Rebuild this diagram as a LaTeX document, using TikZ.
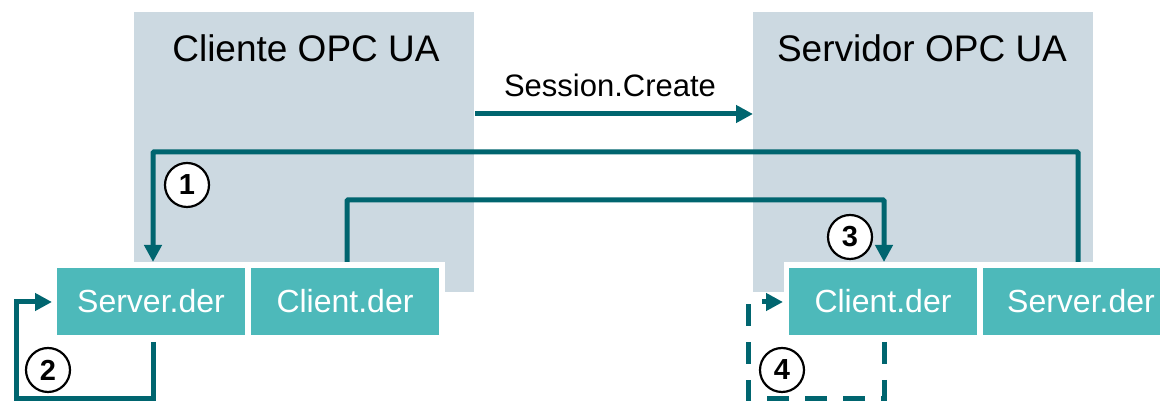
\documentclass[tikz,border=0pt]{standalone}
\usepackage{fontspec}
\setmainfont{Liberation Sans}
\usetikzlibrary{arrows.meta}
\definecolor{panel}{HTML}{CCD9E1}
\definecolor{cert}{HTML}{4DB9BA}
\definecolor{flow}{HTML}{00656F}
\tikzset{
  x=1pt,y=1pt,
  certbox/.style={fill=cert,text=white,minimum width=188pt,minimum height=67pt,inner sep=0pt,font=\fontsize{32}{36}\selectfont},
  arr/.style={draw=flow,line width=5pt,-{Triangle[length=17pt,width=17pt]}},
  numc/.style={circle,draw=black,line width=2.2pt,fill=white,minimum size=44pt,inner sep=0pt,font=\fontsize{29}{32}\selectfont\bfseries},
  title/.style={font=\fontsize{37}{40}\selectfont},
}
\begin{document}
\begin{tikzpicture}
\useasboundingbox (0,0) rectangle (1160,403);
% panels
\fill[panel] (134,111) rectangle (474,391);
\fill[panel] (753,111) rectangle (1093,391);
\node[title] (tcli) at (306,355) {Cliente OPC UA};
\node[title] (tsrv) at (922,355) {Servidor OPC UA};
% white frames
\fill[white] (52,62) rectangle (445,141);
\fill[white] (784,62) rectangle (1160,141);
% cert boxes
\node[certbox] (cliL) at (345,101.5) {Client.der};
\node[certbox] (srvL) at (151,101.5) {Server.der};
\node[certbox] (cliR) at (883,101.5) {Client.der};
\begin{scope}
\clip (0,0) rectangle (1160,403);
\node[certbox,minimum width=196pt] (srvR) at (1081,101.5) {Server.der};
\end{scope}
% coordinates
\coordinate (p1s) at (1078,141);
\coordinate (p1e) at (153,141);
\coordinate (p3s) at (347,141);
\coordinate (p3e) at (884,141);
\coordinate (p2s) at (153,61);
\coordinate (p2e) at (52,101);
\coordinate (p4s) at (884,61);
\coordinate (p4e) at (783,101);
% session create
\node[font=\fontsize{31}{36}\selectfont] (sess) at (610,318) {Session.Create};
\coordinate (sa) at (475,289);
\coordinate (sb) at (753,289);
\draw[arr] (sa) -- (sb);
% arrow 1
\draw[arr,rounded corners=1pt] (p1s) -- (1078,251) -- (153,251) -- (p1e);
% arrow 3
\draw[arr,rounded corners=1pt] (p3s) -- (347,203) -- (884,203) -- (p3e);
% arrow 2
\draw[arr] (p2s) -- (153,4) -- (16,4) -- (16,101) -- (p2e);
% arrow 4
\draw[arr,dash pattern=on 22pt off 16pt] (p4s) -- (884,4) -- (748,4) -- (748,101) -- (p4e);
% numbers
\node[numc] (n1) at (187,218) {1};
\node[numc] (n2) at (48,33) {2};
\node[numc] (n3) at (850,166) {3};
\node[numc] (n4) at (782,33) {4};
\end{tikzpicture}
\end{document}
